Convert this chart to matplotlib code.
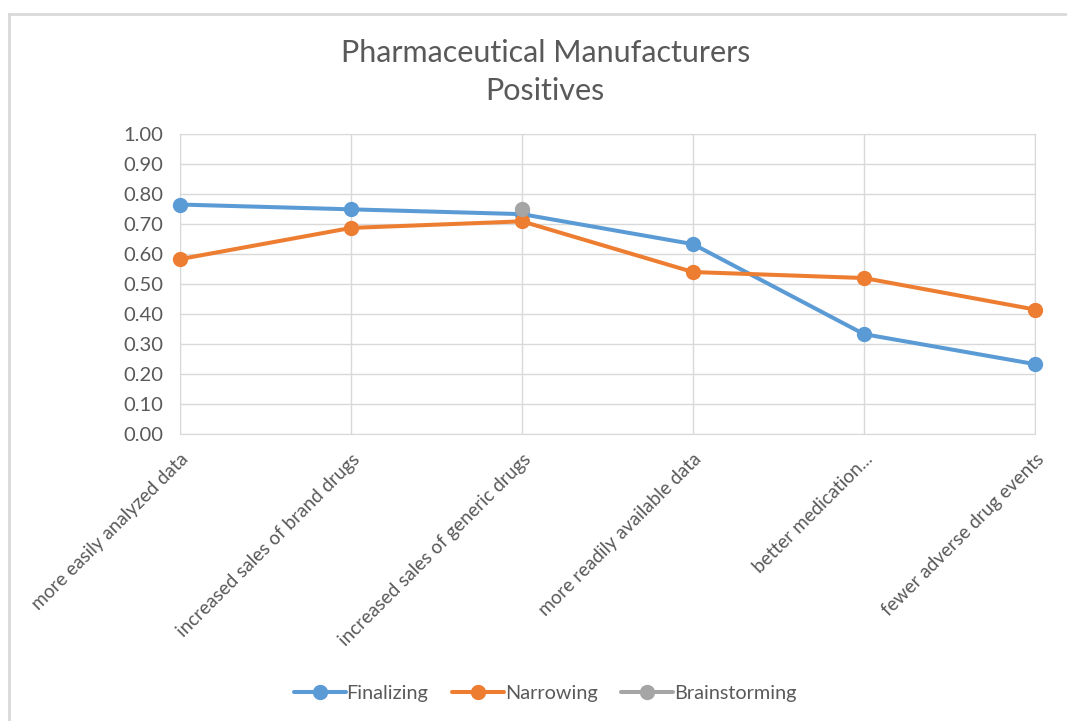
import numpy as np
import matplotlib
matplotlib.use("Agg")
import matplotlib.pyplot as plt
from matplotlib.lines import Line2D

plt.rcParams["font.family"] = ["Lato", "DejaVu Sans"]

categories = [
    "more easily analyzed data",
    "increased sales of brand drugs",
    "increased sales of generic drugs",
    "more readily available data",
    "better medication...",
    "fewer adverse drug events",
]
finalizing = [0.765, 0.749, 0.733, 0.633, 0.333, 0.233]
narrowing = [0.583, 0.687, 0.709, 0.540, 0.520, 0.415]
brainstorming = [np.nan, np.nan, 0.750, np.nan, np.nan, np.nan]

series = [
    ("Finalizing", finalizing, "#5B9BD5"),
    ("Narrowing", narrowing, "#ED7D31"),
    ("Brainstorming", brainstorming, "#A5A5A5"),
]

text_color = "#595959"
grid_color = "#D9D9D9"

fig = plt.figure(figsize=(10.67, 7.21), dpi=100)
ax = fig.add_axes([0.1687, 0.398, 0.8013, 0.4161])

x = np.arange(len(categories))
for name, values, color in series:
    ax.plot(x, values, color=color, lw=2.9, marker="o", markersize=10,
            label=name, solid_capstyle="round", zorder=3, clip_on=False)

ax.set_xlim(0, len(categories) - 1)
ax.set_ylim(0, 1.0)
ax.set_yticks(np.arange(0, 1.01, 0.1))
ax.set_yticklabels([f"{v:.2f}" for v in np.arange(0, 1.01, 0.1)])
ax.set_xticks(x)
ax.set_xticklabels(categories, rotation=45, ha="right", va="top",
                   rotation_mode="anchor")

ax.grid(True, color=grid_color, lw=1)
ax.set_axisbelow(True)
for spine in ax.spines.values():
    spine.set_color(grid_color)
ax.tick_params(axis="both", length=0, colors=text_color)
ax.tick_params(axis="y", pad=12, labelsize=14.5)
ax.tick_params(axis="x", pad=12, labelsize=13.6)

fig.text(0.511, 0.927, "Pharmaceutical Manufacturers", ha="center", va="center",
         fontsize=22, color=text_color)
fig.text(0.511, 0.874, "Positives", ha="center", va="center",
         fontsize=22, color=text_color)

fig.legend(loc="center", bbox_to_anchor=(0.511, 0.038), ncol=3, frameon=False,
           fontsize=14.3, labelcolor=text_color, handlelength=2.6,
           handletextpad=0.05, columnspacing=1.2)

# chart frame (top and left edges visible in the crop)
fig.add_artist(Line2D([0.008, 1.0], [0.981, 0.981], transform=fig.transFigure,
                      color=grid_color, lw=2))
fig.add_artist(Line2D([0.008, 0.008], [0.0, 0.981], transform=fig.transFigure,
                      color=grid_color, lw=2))

fig.savefig("out.png", dpi=100)
